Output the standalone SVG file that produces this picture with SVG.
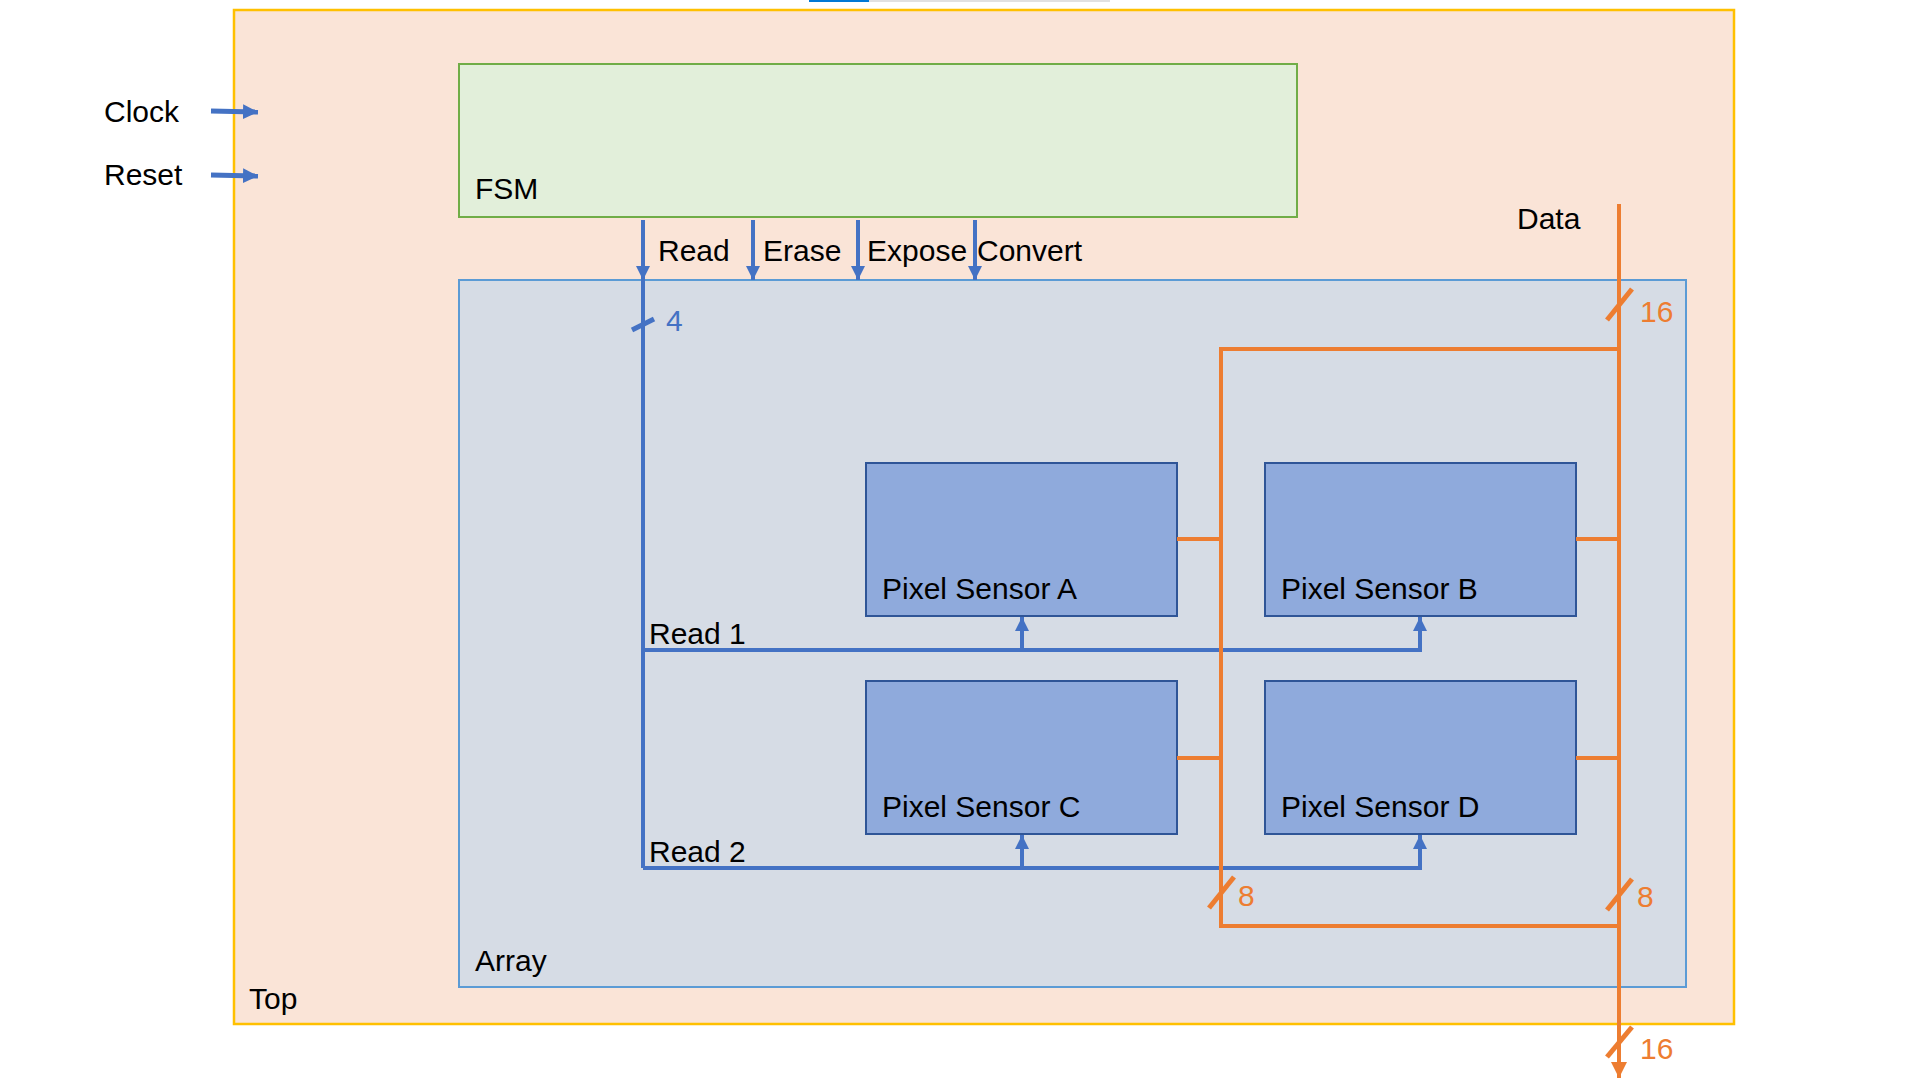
<svg xmlns="http://www.w3.org/2000/svg" width="1920" height="1080" viewBox="0 0 1920 1080">
<style>
text{font-family:"Liberation Sans",Arial,sans-serif;font-size:30px;fill:#000}
.bl{stroke:#4472C4;stroke-width:4;fill:none}
.bk{stroke:#4472C4;stroke-width:5;fill:none}
.or{stroke:#ED7D31;stroke-width:4;fill:none}
.tk{stroke:#ED7D31;stroke-width:5;fill:none}
.ot{fill:#ED7D31}
.bt{fill:#4472C4}
.sensor{fill:#8FAADC;stroke:#2F5597;stroke-width:2}
</style>
<defs>
<marker id="ab" viewBox="0 0 10 10" refX="10" refY="5" markerWidth="16" markerHeight="14" markerUnits="userSpaceOnUse" orient="auto"><path d="M0,0 L10,5 L0,10 Z" fill="#4472C4"/></marker>
<marker id="ac" viewBox="0 0 10 10" refX="10" refY="5" markerWidth="15" markerHeight="17" markerUnits="userSpaceOnUse" orient="auto"><path d="M0,0 L10,5 L0,10 Z" fill="#4472C4"/></marker>
<marker id="ao" viewBox="0 0 10 10" refX="10" refY="5" markerWidth="16" markerHeight="16" markerUnits="userSpaceOnUse" orient="auto"><path d="M0,0 L10,5 L0,10 Z" fill="#ED7D31"/></marker>
</defs>
<rect x="0" y="0" width="1920" height="1080" fill="#FFFFFF"/>
<rect x="809" y="0" width="60" height="2" fill="#0078D4"/>
<rect x="869" y="0" width="241" height="2" fill="#E1E1E1"/>
<g id="top"><rect x="234" y="10" width="1500" height="1014" fill="#FAE4D7" stroke="#FFC000" stroke-width="2.5"/><text x="249" y="1009">Top</text></g>
<g id="fsm"><rect x="459" y="64" width="838" height="153" fill="#E2EFDA" stroke="#70AD47" stroke-width="2"/><text x="475" y="199">FSM</text></g>
<g id="array"><rect x="459" y="280" width="1227" height="707" fill="#D6DCE5" stroke="#5B9BD5" stroke-width="2"/><text x="475" y="971">Array</text></g>
<g id="sensorA"><rect class="sensor" x="866" y="463" width="311" height="153"/><text x="882" y="599">Pixel Sensor A</text></g>
<g id="sensorB"><rect class="sensor" x="1265" y="463" width="311" height="153"/><text x="1281" y="599">Pixel Sensor B</text></g>
<g id="sensorC"><rect class="sensor" x="866" y="681" width="311" height="153"/><text x="882" y="817">Pixel Sensor C</text></g>
<g id="sensorD"><rect class="sensor" x="1265" y="681" width="311" height="153"/><text x="1281" y="817">Pixel Sensor D</text></g>
<g id="connectors">
<line class="bk" x1="211" y1="111" x2="258" y2="112" marker-end="url(#ac)"/>
<line class="bk" x1="211" y1="175" x2="258" y2="176" marker-end="url(#ac)"/>
<line class="bl" x1="643" y1="220" x2="643" y2="280" marker-end="url(#ab)"/>
<line class="bl" x1="753" y1="220" x2="753" y2="280" marker-end="url(#ab)"/>
<line class="bl" x1="858" y1="220" x2="858" y2="280" marker-end="url(#ab)"/>
<line class="bl" x1="975" y1="220" x2="975" y2="280" marker-end="url(#ab)"/>
<path class="bl" d="M643,280 V868"/>
<line class="bk" x1="632" y1="330" x2="654" y2="319"/>
<path class="bl" d="M643,650 H1420 V617" marker-end="url(#ab)"/>
<path class="bl" d="M1022,650 V617" marker-end="url(#ab)"/>
<path class="bl" d="M643,868 H1420 V835" marker-end="url(#ab)"/>
<path class="bl" d="M1022,868 V835" marker-end="url(#ab)"/>
<line class="or" x1="1619" y1="204" x2="1619" y2="1078" marker-end="url(#ao)"/>
<path class="or" d="M1619,349 H1221 V926 H1619"/>
<line class="or" x1="1177" y1="539" x2="1221" y2="539"/>
<line class="or" x1="1576" y1="539" x2="1619" y2="539"/>
<line class="or" x1="1177" y1="758" x2="1221" y2="758"/>
<line class="or" x1="1576" y1="758" x2="1619" y2="758"/>
<line class="tk" x1="1607" y1="320" x2="1632" y2="289"/>
<line class="tk" x1="1209" y1="908" x2="1234" y2="877"/>
<line class="tk" x1="1607" y1="910" x2="1632" y2="879"/>
<line class="tk" x1="1607" y1="1057" x2="1632" y2="1027"/>
</g>
<g id="labels">
<text x="104" y="122">Clock</text>
<text x="104" y="185">Reset</text>
<text x="658" y="261">Read</text>
<text x="763" y="261">Erase</text>
<text x="867" y="261">Expose</text>
<text x="977" y="261">Convert</text>
<text x="649" y="644">Read 1</text>
<text x="649" y="862">Read 2</text>
<text x="1517" y="229">Data</text>
<text class="bt" x="666" y="331">4</text>
<text class="ot" x="1640" y="322">16</text>
<text class="ot" x="1238" y="906">8</text>
<text class="ot" x="1637" y="907">8</text>
<text class="ot" x="1640" y="1059">16</text>
</g>
</svg>
